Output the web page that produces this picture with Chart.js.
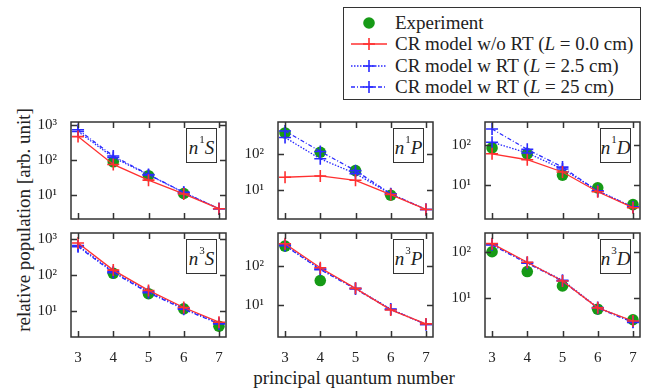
<!DOCTYPE html>
<html>
<head>
<meta charset="utf-8">
<script src="https://cdn.jsdelivr.net/npm/chart.js@4.4.0/dist/chart.umd.min.js"></script>
<style>
  body { margin: 0; background: #fff; }
  #wrap { position: relative; width: 649px; height: 392px; overflow: hidden;
          font-family: "Liberation Serif", "DejaVu Serif", serif; color: #222; }
  #wrap canvas { position: absolute; }
  .tag { position: absolute; box-sizing: border-box; width: 31px; height: 35px;
         border: 1.5px solid #333; background: #fff; font-size: 19px; line-height: 1;
         display: flex; align-items: center; justify-content: center; padding-top: 3px; }
  .tag .up { font-size: 11px; position: relative; top: -8px; margin: 0 0 0 1px; }
  .ytitle { position: absolute; left: 24px; top: 220px; font-size: 19px; white-space: nowrap;
            transform: translate(-50%, -50%) rotate(-90deg); }
  .xtitle { position: absolute; left: 354px; top: 378px; font-size: 19px; white-space: nowrap;
            transform: translate(-50%, -50%); }
  #legend { position: absolute; left: 343px; top: 7px; width: 298px; height: 93px; box-sizing: border-box;
            border: 1.5px solid #333; background: #fff; padding-top: 4px; font-size: 19px; }
  #legend .row { height: 21.5px; display: flex; align-items: center; }
  #legend svg { margin-left: 6px; margin-right: 7px; }
</style>
</head>
<body>
<div id="wrap">
  <div class="ytitle">relative population [arb. unit]</div>
  <div class="xtitle">principal quantum number</div>
  <div id="legend"></div>
</div>
<script>
// principal quantum number n
const quantumN = [3, 4, 5, 6, 7];
const xTicks = [3, 4, 5, 6, 7];

// n1S
const n1S_exp   = [null, 89, 36, 11.3, null];
const n1S_noRT  = [460, 75, 27, 11, 4.2];
const n1S_rt25  = [640, 118, 38, 12, 4.2];
const n1S_rt250 = [720, 130, 39, 12.2, 4.2];

// n1P
const n1P_exp   = [380, 112, 35, 7.4, null];
const n1P_noRT  = [23, 25, 19, 7.7, 3.0];
const n1P_rt25  = [285, 74, 29, 8, 3.0];
const n1P_rt250 = [430, 118, 35, 8.1, 3.0];

// n1D
const n1D_exp   = [86, 61, 17.5, 8.3, 3.1];
const n1D_noRT  = [61, 43, 21, 6.6, 2.6];
const n1D_rt25  = [120, 64, 25, 7, 2.7];
const n1D_rt250 = [260, 79, 28, 6.8, 2.7];

// n3S
const n3S_exp   = [null, 110, 30, 11.5, 3.8];
const n3S_noRT  = [760, 135, 37, 12.5, 4.9];
const n3S_rt25  = [640, 122, 34, 11.8, 4.6];
const n3S_rt250 = [600, 115, 32, 11.2, 4.4];

// n3P
const n3P_exp   = [340, 43, null, null, null];
const n3P_noRT  = [390, 93, 27, 7.4, 3.2];
const n3P_rt25  = [360, 86, 27, 7.8, 3.1];
const n3P_rt250 = [350, 83, 26, 7.6, 3.1];

// n3D
const n3D_exp   = [100, 37, 18, 5.6, 3.3];
const n3D_noRT  = [150, 59, 23, 6.0, 3.1];
const n3D_rt25  = [145, 58, 24, 6.1, 3.0];
const n3D_rt250 = [140, 56, 23, 5.9, 2.9];

// y ranges (log axis)
const yRanges = {
  n1S: [2.15, 1190], n1P: [1.64, 760], n1D: [1.34, 392],
  n3S: [1.91, 1430], n3P: [1.46, 745], n3D: [1.39, 256]
};

const seriesNames = ['Experiment', 'CR model w/o RT (L = 0.0 cm)', 'CR model w RT (L = 2.5 cm)', 'CR model w RT (L = 25 cm)'];

const RED = '#ff3030';
const BLUE = '#2a2aff';
const GREEN = '#169a16';
const TICK_FONT = { family: "'Liberation Serif', 'DejaVu Serif', serif", size: 15 };

const panels = [
  { key: 'n1S', mult: '1', orb: 'S', exp: n1S_exp, noRT: n1S_noRT, rt25: n1S_rt25, rt250: n1S_rt250 },
  { key: 'n1P', mult: '1', orb: 'P', exp: n1P_exp, noRT: n1P_noRT, rt25: n1P_rt25, rt250: n1P_rt250 },
  { key: 'n1D', mult: '1', orb: 'D', exp: n1D_exp, noRT: n1D_noRT, rt25: n1D_rt25, rt250: n1D_rt250 },
  { key: 'n3S', mult: '3', orb: 'S', exp: n3S_exp, noRT: n3S_noRT, rt25: n3S_rt25, rt250: n3S_rt250 },
  { key: 'n3P', mult: '3', orb: 'P', exp: n3P_exp, noRT: n3P_noRT, rt25: n3P_rt25, rt250: n3P_rt250 },
  { key: 'n3D', mult: '3', orb: 'D', exp: n3D_exp, noRT: n3D_noRT, rt25: n3D_rt25, rt250: n3D_rt250 }
];

// plot area layout
const colLeft = [71, 278, 485];
const rowTop = [115, 226];
const areaW = 155, areaH = 111;
const yAxisW = 45, pad = 8, xAxisH = 30;

const supDigits = { 0: '⁰', 1: '¹', 2: '²', 3: '³', 4: '⁴' };

// frame with inward ticks on all four sides
const framePlugin = {
  id: 'frame',
  afterDraw(chart) {
    const { ctx, chartArea: a, scales } = chart;
    ctx.save();
    ctx.strokeStyle = '#333';
    ctx.lineWidth = 1.5;
    ctx.strokeRect(a.left, a.top, a.right - a.left, a.bottom - a.top);
    ctx.beginPath();
    scales.x.ticks.forEach(t => {
      const px = Math.round(scales.x.getPixelForValue(t.value)) + 0.5;
      ctx.moveTo(px, a.bottom); ctx.lineTo(px, a.bottom - 6);
      ctx.moveTo(px, a.top); ctx.lineTo(px, a.top + 6);
    });
    scales.y.ticks.forEach(t => {
      const py = Math.round(scales.y.getPixelForValue(t.value)) + 0.5;
      ctx.moveTo(a.left, py); ctx.lineTo(a.left + 6, py);
      ctx.moveTo(a.right, py); ctx.lineTo(a.right - 6, py);
    });
    ctx.stroke();
    ctx.restore();
  }
};

function makeXY(values) {
  return quantumN.map((n, i) => ({ x: n, y: values[i] }));
}

function lineSet(label, values, color, dash, order) {
  return {
    label: label,
    data: makeXY(values),
    borderColor: color,
    backgroundColor: color,
    borderWidth: 1.3,
    borderDash: dash,
    pointStyle: 'cross',
    pointRadius: 6,
    pointBorderWidth: 1.6,
    pointBorderColor: color,
    showLine: true,
    order: order,
    clip: 8
  };
}

const wrap = document.getElementById('wrap');

panels.forEach((p, idx) => {
  const col = idx % 3, row = Math.floor(idx / 3);
  const isBottom = row === 1;
  const left = colLeft[col], top = rowTop[row];

  const canvas = document.createElement('canvas');
  const cw = yAxisW + areaW + pad;
  const ch = pad + areaH + (isBottom ? xAxisH : pad);
  canvas.width = cw; canvas.height = ch;
  canvas.style.width = cw + 'px'; canvas.style.height = ch + 'px';
  canvas.style.left = (left - yAxisW) + 'px';
  canvas.style.top = (top - pad) + 'px';
  wrap.appendChild(canvas);

  const [yMin, yMax] = yRanges[p.key];

  new Chart(canvas.getContext('2d'), {
    type: 'scatter',
    data: {
      datasets: [
        {
          label: seriesNames[0],
          data: makeXY(p.exp),
          pointStyle: 'circle',
          pointRadius: 5.8,
          backgroundColor: GREEN,
          borderColor: GREEN,
          borderWidth: 0,
          showLine: false,
          order: 4,
          clip: 8
        },
        lineSet(seriesNames[1], p.noRT, RED, [], 1),
        lineSet(seriesNames[2], p.rt25, BLUE, [1.5, 1.5], 2),
        lineSet(seriesNames[3], p.rt250, BLUE, [4, 2, 1, 2], 3)
      ]
    },
    options: {
      responsive: false,
      animation: false,
      devicePixelRatio: 1,
      layout: { autoPadding: false, padding: { left: 0, top: pad, right: pad, bottom: isBottom ? 0 : pad } },
      plugins: { legend: { display: false }, tooltip: { enabled: false } },
      scales: {
        x: {
          type: 'linear',
          min: 2.8, max: 7.2,
          afterBuildTicks: s => { s.ticks = xTicks.map(v => ({ value: v })); },
          afterFit: s => { s.height = isBottom ? xAxisH : 0; },
          grid: { display: false },
          border: { display: false },
          ticks: {
            display: isBottom,
            padding: 4,
            color: '#222',
            font: TICK_FONT,
            callback: v => String(v)
          }
        },
        y: {
          type: 'logarithmic',
          min: yMin, max: yMax,
          afterBuildTicks: s => {
            s.ticks = [1, 10, 100, 1000, 10000].filter(v => v >= s.min && v <= s.max).map(v => ({ value: v }));
          },
          afterFit: s => { s.width = yAxisW; },
          grid: { display: false },
          border: { display: false },
          ticks: {
            padding: 6,
            color: '#222',
            font: TICK_FONT,
            callback: v => '10' + supDigits[Math.round(Math.log10(v))]
          }
        }
      }
    },
    plugins: [framePlugin]
  });

  const tag = document.createElement('div');
  tag.className = 'tag';
  tag.style.left = (left + areaW - 9 - 31) + 'px';
  tag.style.top = (top + 13) + 'px';
  tag.innerHTML = '<i>n</i><span class="up">' + p.mult + '</span><i>' + p.orb + '</i>';
  wrap.appendChild(tag);
});

// legend
const legendSamples = [
  { color: GREEN, dash: null, marker: 'dot' },
  { color: RED, dash: '', marker: 'cross' },
  { color: BLUE, dash: '1.5 1.5', marker: 'cross' },
  { color: BLUE, dash: '4 2 1 2', marker: 'cross' }
];
const legend = document.getElementById('legend');
seriesNames.forEach((name, i) => {
  const s = legendSamples[i];
  let svg = '<svg width="38" height="14" viewBox="0 0 38 14">';
  if (s.marker === 'dot') {
    svg += '<circle cx="19" cy="7" r="5.8" fill="' + s.color + '"/>';
  } else {
    svg += '<line x1="1" y1="7" x2="37" y2="7" stroke="' + s.color + '" stroke-width="1.3"' +
           (s.dash ? ' stroke-dasharray="' + s.dash + '"' : '') + '/>';
    svg += '<line x1="19" y1="1" x2="19" y2="13" stroke="' + s.color + '" stroke-width="1.6"/>';
    svg += '<line x1="13" y1="7" x2="25" y2="7" stroke="' + s.color + '" stroke-width="1.6"/>';
  }
  svg += '</svg>';
  const label = name.replace('(L =', '(<i>L</i> =');
  const row = document.createElement('div');
  row.className = 'row';
  row.innerHTML = svg + '<span>' + label + '</span>';
  legend.appendChild(row);
});
</script>
</body>
</html>
